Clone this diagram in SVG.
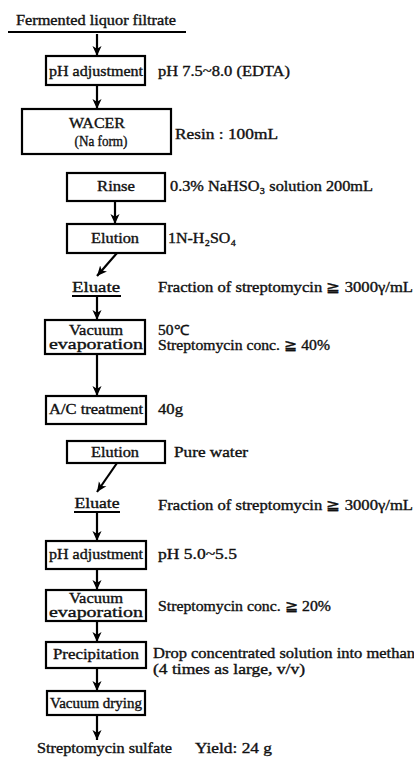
<svg xmlns="http://www.w3.org/2000/svg" width="414" height="763" viewBox="0 0 414 763">
<defs>
<marker id="ah" markerUnits="userSpaceOnUse" markerWidth="10" markerHeight="12" refX="11" refY="5" orient="auto" viewBox="0 0 11 10">
<path d="M0,0 L11,5 L0,10 L3,5 Z" fill="#000"/>
</marker>
<style>
text{font-family:"Liberation Serif","Times New Roman",serif;font-size:14px;fill:#111;stroke:#111;stroke-width:0.35}
.c{text-anchor:middle}
.box{fill:#fff;stroke:#000;stroke-width:2.2}
.ln{stroke:#000;stroke-width:2.2;fill:none}
.ar{stroke:#000;stroke-width:2.2;fill:none;marker-end:url(#ah)}
</style>
</defs>
<rect width="414" height="763" fill="#fff"/>

<g id="start">
<text x="16" y="25" textLength="160" lengthAdjust="spacingAndGlyphs">Fermented liquor filtrate</text>
<line class="ln" x1="8" y1="32" x2="186" y2="32"/>
</g>

<g id="ph1">
<rect class="box" x="46" y="56" width="99" height="29"/>
<text x="49" y="76" textLength="94" lengthAdjust="spacingAndGlyphs">pH adjustment</text>
<text x="158" y="76" textLength="132" lengthAdjust="spacingAndGlyphs">pH 7.5~8.0 (EDTA)</text>
</g>

<g id="wacer">
<rect class="box" x="22" y="109" width="149" height="45"/>
<text class="c" x="97" y="128" textLength="56" lengthAdjust="spacingAndGlyphs">WACER</text>
<text class="c" x="101" y="146" textLength="53" lengthAdjust="spacingAndGlyphs">(Na form)</text>
<text x="175" y="139" textLength="103" lengthAdjust="spacingAndGlyphs">Resin : 100mL</text>
</g>

<g id="rinse">
<rect class="box" x="67" y="173" width="98" height="28"/>
<text class="c" x="116" y="191" textLength="38" lengthAdjust="spacingAndGlyphs">Rinse</text>
<text x="170" y="191" textLength="203" lengthAdjust="spacingAndGlyphs">0.3% NaHSO₃ solution 200mL</text>
</g>

<g id="elution1">
<rect class="box" x="67" y="224" width="98" height="29"/>
<text class="c" x="115" y="243" textLength="48" lengthAdjust="spacingAndGlyphs">Elution</text>
<text x="168" y="243" textLength="68" lengthAdjust="spacingAndGlyphs">1N-H₂SO₄</text>
</g>

<g id="eluate1">
<text class="c" x="96" y="292" textLength="48" lengthAdjust="spacingAndGlyphs">Eluate</text>
<line class="ln" x1="72" y1="296" x2="121" y2="296"/>
<text x="158" y="292" textLength="255" lengthAdjust="spacingAndGlyphs">Fraction of streptomycin ≧ 3000γ/mL</text>
</g>

<g id="evap1">
<rect class="box" x="45" y="320" width="100" height="34"/>
<text class="c" x="96" y="335" textLength="54" lengthAdjust="spacingAndGlyphs">Vacuum</text>
<text class="c" x="96" y="349" textLength="94" lengthAdjust="spacingAndGlyphs">evaporation</text>
<text x="158" y="335" textLength="31" lengthAdjust="spacingAndGlyphs">50℃</text>
<text x="158" y="350" textLength="172" lengthAdjust="spacingAndGlyphs">Streptomycin conc. ≧ 40%</text>
</g>

<g id="ac">
<rect class="box" x="46" y="396" width="100" height="28"/>
<text x="49" y="414" textLength="94" lengthAdjust="spacingAndGlyphs">A/C treatment</text>
<text x="158" y="414" textLength="25" lengthAdjust="spacingAndGlyphs">40g</text>
</g>

<g id="elution2">
<rect class="box" x="67" y="441" width="98" height="22"/>
<text class="c" x="115" y="457" textLength="48" lengthAdjust="spacingAndGlyphs">Elution</text>
<text x="174" y="457" textLength="74" lengthAdjust="spacingAndGlyphs">Pure water</text>
</g>

<g id="eluate2">
<text class="c" x="97" y="508" textLength="45" lengthAdjust="spacingAndGlyphs">Eluate</text>
<line class="ln" x1="74" y1="512" x2="120" y2="512"/>
<text x="158" y="510" textLength="255" lengthAdjust="spacingAndGlyphs">Fraction of streptomycin ≧ 3000γ/mL</text>
</g>

<g id="ph2">
<rect class="box" x="46" y="541" width="100" height="28"/>
<text x="49" y="559" textLength="94" lengthAdjust="spacingAndGlyphs">pH adjustment</text>
<text x="158" y="559" textLength="79" lengthAdjust="spacingAndGlyphs">pH 5.0~5.5</text>
</g>

<g id="evap2">
<rect class="box" x="46" y="590" width="100" height="31"/>
<text class="c" x="96" y="603" textLength="54" lengthAdjust="spacingAndGlyphs">Vacuum</text>
<text class="c" x="96" y="617" textLength="94" lengthAdjust="spacingAndGlyphs">evaporation</text>
<text x="158" y="611" textLength="173" lengthAdjust="spacingAndGlyphs">Streptomycin conc. ≧ 20%</text>
</g>

<g id="precip">
<rect class="box" x="46" y="642" width="100" height="26"/>
<text class="c" x="96" y="659" textLength="86" lengthAdjust="spacingAndGlyphs">Precipitation</text>
<text x="153" y="658" textLength="262" lengthAdjust="spacingAndGlyphs">Drop concentrated solution into methan</text>
<text x="153" y="674" textLength="152" lengthAdjust="spacingAndGlyphs">(4 times as large, v/v)</text>
</g>

<g id="drying">
<rect class="box" x="47" y="691" width="98" height="24"/>
<text class="c" x="96" y="708" textLength="92" lengthAdjust="spacingAndGlyphs">Vacuum drying</text>
</g>

<g id="product">
<text x="37" y="753" textLength="135" lengthAdjust="spacingAndGlyphs">Streptomycin sulfate</text>
<text x="195" y="753" textLength="77" lengthAdjust="spacingAndGlyphs">Yield: 24 g</text>
</g>

<g id="connectors">
<line class="ar" x1="97" y1="34" x2="97" y2="56"/>
<line class="ar" x1="97" y1="85" x2="97" y2="109"/>
<line class="ar" x1="115" y1="201" x2="115" y2="224"/>
<line class="ar" x1="117" y1="253" x2="97" y2="276"/>
<line class="ar" x1="97" y1="297" x2="97" y2="320"/>
<line class="ar" x1="97" y1="354" x2="97" y2="396"/>
<line class="ar" x1="117" y1="463" x2="97" y2="492"/>
<line class="ar" x1="97" y1="513" x2="97" y2="541"/>
<line class="ar" x1="97" y1="569" x2="97" y2="590"/>
<line class="ar" x1="97" y1="621" x2="97" y2="642"/>
<line class="ar" x1="97" y1="668" x2="97" y2="691"/>
<line class="ar" x1="97" y1="715" x2="97" y2="740"/>
</g>
</svg>
